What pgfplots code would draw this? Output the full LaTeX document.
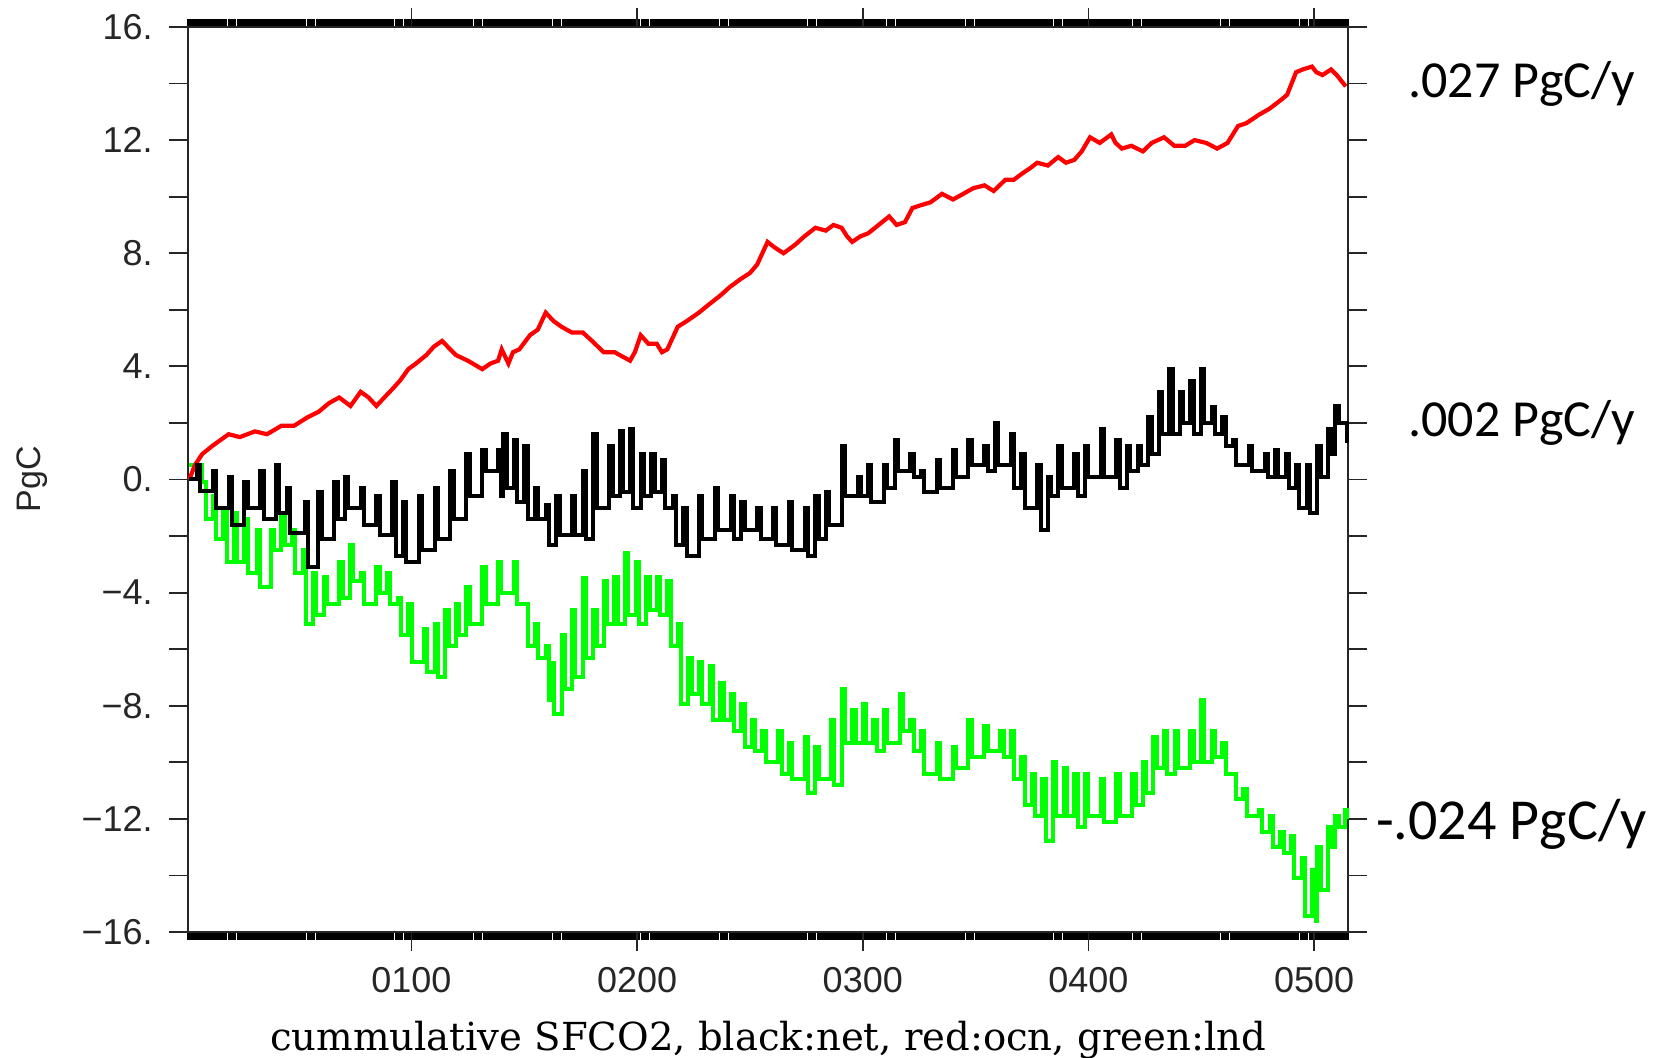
\documentclass[border=0pt]{standalone}
\usepackage{fontspec}
\setmainfont{Liberation Sans}
\newfontfamily\tickfont{Liberation Sans}
\newfontfamily\labfont{DejaVu Serif}
\newfontfamily\annfont{Carlito}
\usepackage{pgfplots}
\pgfplotsset{compat=1.18}
\definecolor{lndgreen}{RGB}{0,255,0}
\definecolor{ocnred}{RGB}{255,0,0}
\begin{document}
\begin{tikzpicture}[x=1pt,y=1pt]
\path[use as bounding box] (-94,-63) rectangle (736.5,466);
\begin{axis}[
  at={(0,0)}, anchor=south west,
  scale only axis, width=580pt, height=452.5pt,
  xmin=1, xmax=515, ymin=-16, ymax=16,
  axis line style={black!85, line width=0.9pt},
  tick align=outside,
  major tick length=9.5pt,
  minor tick length=4pt,
  tick style={black!85, line width=0.9pt},
  xtick={100,200,300,400,500},
  xticklabels={0100,0200,0300,0400,0500},
  minor xtick={1,...,515},
  minor x tick style={line width=1.1pt, black},
  ytick={-16,-14,...,16},
  yticklabels={−16.,,−12.,,−8.,,−4.,,0.,,4.,,8.,,12.,,16.},
  tick label style={font=\tickfont\fontsize{18}{18}\selectfont, black!85, inner sep=0pt},
  yticklabel style={anchor=east, xshift=-8pt},
  xticklabel style={anchor=north, yshift=-8pt},
  xlabel={cummulative SFCO2, black:net, red:ocn, green:lnd},
  xlabel style={font=\labfont\fontsize{19.3}{19.3}\selectfont, at={(axis description cs:0.5,-0.1193)}, anchor=center, inner sep=0pt},
  ylabel={PgC},
  ylabel style={font=\tickfont\fontsize{17}{17}\selectfont, black!85, at={(axis description cs:-0.1345,0.5)}, anchor=center, inner sep=0pt},
  clip=false,
]
% land (green)
\addplot[const plot, color=lndgreen, line width=2pt] coordinates {
(1.6,0.5) (7.3,-0.1) (8.8,-1.4) (11.9,-0.6) (13.4,-2.1) (16.6,-1.0) (18.1,-2.9)
(21.3,-1.2) (22.8,-2.9) (26.0,-1.4) (27.5,-3.3) (31.6,-1.8) (33.1,-3.8)
(37.7,-1.8) (39.2,-2.5) (42.4,-1.2) (43.9,-2.3) (47.1,-1.8) (48.6,-3.3)
(51.8,-2.5) (53.3,-5.1) (56.4,-3.3) (57.9,-4.8) (61.1,-3.45) (62.6,-4.4)
(68.1,-2.9) (69.6,-4.2) (72.8,-2.3) (74.3,-3.6) (77.5,-3.3) (79.0,-4.4)
(84.5,-3.1) (86.0,-4.0) (89.2,-3.3) (90.7,-4.4) (93.9,-4.2) (95.4,-5.5)
(98.6,-4.4) (100.1,-6.45) (105.6,-5.3) (107.1,-6.8) (110.3,-5.1) (111.8,-7.0)
(115.0,-4.6) (116.5,-5.9) (119.7,-4.4) (121.2,-5.5) (124.4,-3.8) (125.9,-5.1)
(131.4,-3.1) (132.9,-4.4) (138.4,-2.9) (139.9,-4.0) (145.4,-2.9) (146.9,-4.4)
(150.1,-4.4) (151.6,-5.9) (154.8,-5.1) (156.3,-6.3) (159.5,-5.9) (161.0,-7.8)
(161.8,-6.5) (163.3,-8.3) (166.5,-5.5) (168.0,-7.4) (171.2,-4.6) (172.7,-7.0)
(175.9,-3.5) (177.4,-6.3) (180.6,-4.6) (182.1,-5.9) (185.2,-3.6) (186.7,-5.1)
(189.9,-3.45) (191.4,-5.1) (194.6,-2.6) (196.1,-4.8) (199.3,-2.9) (200.8,-5.1)
(204.0,-3.45) (205.5,-4.6) (208.7,-3.45) (210.2,-4.8) (213.4,-3.6) (214.9,-5.9)
(218.0,-5.1) (219.5,-7.95) (222.7,-6.3) (224.2,-7.6) (227.4,-6.45) (228.9,-7.95)
(232.1,-6.6) (233.6,-8.5) (236.8,-7.2) (238.3,-8.5) (241.5,-7.6) (243.0,-8.9)
(246.1,-7.95) (247.6,-9.45) (250.8,-8.5) (252.3,-9.6) (255.5,-8.9) (257.0,-10.0)
(262.5,-8.9) (264.0,-10.4) (267.2,-9.3) (268.7,-10.6) (274.2,-9.1) (275.7,-11.1)
(278.9,-9.45) (280.4,-10.6) (285.9,-8.5) (287.4,-10.8) (290.6,-7.4) (292.1,-9.3)
(295.3,-8.15) (296.8,-9.3) (300.0,-7.95) (301.5,-9.3) (304.7,-8.5) (306.2,-9.6)
(309.4,-8.15) (310.9,-9.3) (316.4,-7.6) (317.9,-8.9) (321.1,-8.5) (322.6,-9.6)
(325.8,-8.9) (327.3,-10.4) (332.8,-9.3) (334.3,-10.6) (339.8,-9.45) (341.3,-10.2)
(346.8,-8.5) (348.3,-9.8) (353.9,-8.7) (355.4,-9.6) (360.9,-8.9) (362.4,-9.8)
(365.6,-8.9) (367.1,-10.6) (370.3,-9.8) (371.8,-11.5) (374.9,-10.4) (376.4,-11.9)
(379.6,-10.6) (381.1,-12.8) (384.3,-10.0) (385.8,-11.9) (389.0,-10.2) (390.5,-11.9)
(393.7,-10.4) (395.2,-12.3) (398.4,-10.4) (399.9,-11.9) (405.4,-10.6) (406.9,-12.1)
(412.4,-10.4) (413.9,-11.9) (419.4,-10.4) (420.9,-11.5) (424.1,-10.0) (425.6,-11.1)
(428.8,-9.1) (430.3,-10.2) (433.5,-8.9) (435.0,-10.4) (438.2,-8.9) (439.7,-10.2)
(445.2,-8.9) (446.7,-10.0) (449.9,-7.8) (451.4,-10.0) (454.6,-8.9) (456.1,-9.8)
(459.3,-9.3) (460.8,-10.4) (464.0,-10.4) (465.5,-11.3) (468.6,-10.95) (470.1,-11.9)
(475.6,-11.7) (477.1,-12.45) (480.3,-11.9) (481.8,-13.0) (485.0,-12.45) (486.5,-13.2)
(489.7,-12.6) (491.2,-14.1) (494.4,-13.4) (495.9,-15.45) (499.1,-13.8) (500.6,-15.6)
(501.4,-13.0) (502.9,-14.5) (506.1,-12.3) (507.6,-13.0) (509.4,-11.9) (510.9,-12.3)
(513.5,-11.7) (514.5,-12.0)
};
% ocean (red)
\addplot[color=ocnred, line width=2.1pt] coordinates {
(1.6,0) (4,0.5) (7.3,0.9) (12,1.2) (19,1.6) (24,1.5) (30.7,1.7) (36,1.6)
(42.4,1.9) (48,1.9) (54,2.2) (59,2.4) (63.5,2.7) (68,2.9) (73,2.6) (77.5,3.1)
(81,2.9) (84.5,2.6) (88,2.9) (91.6,3.2) (95,3.5) (98.6,3.9) (102,4.1) (106.6,4.4)
(110,4.7) (113.6,4.9) (116,4.7) (119.7,4.4) (125,4.2) (131.4,3.9) (135,4.1)
(138.4,4.2) (140,4.6) (143,4.1) (145,4.5) (147.8,4.6) (152.5,5.1) (156,5.3)
(159.5,5.9) (163,5.6) (166.5,5.4) (171,5.2) (175.9,5.2) (180,4.9) (185.2,4.5)
(190,4.5) (196.9,4.2) (199,4.5) (201.6,5.1) (205,4.8) (208.7,4.8) (211,4.5)
(213.4,4.6) (218,5.4) (222,5.6) (227.4,5.9) (232,6.2) (236.8,6.5) (241,6.8)
(246.1,7.1) (250,7.3) (253.2,7.6) (257.8,8.4) (261,8.2) (264.9,8.0) (270,8.3)
(274.2,8.6) (279,8.9) (283.6,8.8) (287,9.0) (290.6,8.9) (293,8.6) (295.3,8.4)
(299,8.6) (302.3,8.7) (307,9.0) (311.7,9.3) (315,9.0) (318.7,9.1) (322,9.6)
(325.8,9.7) (330,9.8) (335.1,10.1) (340,9.9) (344.5,10.1) (349,10.3) (353.9,10.4)
(358,10.2) (363.2,10.6) (367,10.6) (370.3,10.8) (374,11.0) (377.3,11.2)
(382,11.1) (386.6,11.4) (390,11.2) (393.7,11.3) (397,11.6) (400.7,12.1)
(405,11.9) (410.1,12.2) (412,11.9) (414.8,11.7) (419,11.8) (424.1,11.6)
(428,11.9) (433.5,12.1) (438,11.8) (442.9,11.8) (447,12.0) (452.2,11.9)
(457,11.7) (461.6,11.9) (466.3,12.5) (470,12.6) (475.6,12.9) (480,13.1)
(485,13.4) (488,13.6) (492,14.4) (495,14.5) (499,14.6) (501,14.4) (503.7,14.3)
(507.5,14.5) (510,14.3) (514,13.9)
};
% net (black)
\addplot[const plot, color=black, line width=2pt] coordinates {
(1.6,0.0) (4.9,0.5) (6.4,-0.4) (11.9,0.3) (13.4,-1.0) (19.0,0.1) (20.5,-1.6)
(26.0,-0.1) (27.5,-1.0) (33.0,0.3) (34.5,-1.4) (40.0,0.5) (41.5,-1.2)
(44.7,-0.3) (46.2,-1.9) (52.7,-0.8) (54.2,-3.1) (58.8,-0.45) (60.3,-2.1)
(65.8,-0.1) (67.3,-1.4) (70.5,0.1) (72.0,-1.0) (77.5,-0.3) (79.0,-1.6)
(84.5,-0.6) (86.0,-1.95) (91.6,-0.1) (93.1,-2.7) (96.3,-0.8) (97.8,-2.9)
(103.3,-0.6) (104.8,-2.5) (110.3,-0.3) (111.8,-2.1) (117.3,0.3) (118.8,-1.4)
(124.4,0.9) (125.9,-0.6) (131.4,1.05) (132.9,0.3) (138.4,1.05) (139.9,-0.6)
(140.7,1.6) (142.2,-0.3) (145.4,1.4) (146.9,-0.8) (150.1,1.2) (151.6,-1.4)
(154.8,-0.3) (156.3,-1.4) (159.5,-0.9) (161.0,-2.3) (164.2,-0.6) (165.7,-1.95)
(171.2,-0.6) (172.7,-1.95) (175.9,0.3) (177.4,-2.1) (180.6,1.6) (182.1,-1.0)
(187.6,1.2) (189.1,-0.6) (192.3,1.7) (193.8,-0.45) (196.9,1.8) (198.4,-1.0)
(201.6,0.9) (203.1,-0.6) (206.3,0.9) (207.8,-0.45) (211.0,0.7) (212.5,-1.0)
(215.7,-0.6) (217.2,-2.3) (220.4,-1.0) (221.9,-2.7) (227.4,-0.6) (228.9,-2.1)
(234.4,-0.3) (235.9,-1.8) (241.5,-0.6) (243.0,-2.1) (246.1,-0.8) (247.6,-1.8)
(253.2,-1.0) (254.7,-2.1) (260.2,-1.0) (261.7,-2.3) (267.2,-0.8) (268.7,-2.5)
(274.2,-1.0) (275.7,-2.7) (278.9,-0.6) (280.4,-2.1) (283.6,-0.45) (285.1,-1.6)
(290.6,1.2) (292.1,-0.6) (297.7,0.1) (299.2,-0.6) (302.3,0.5) (303.8,-0.8)
(309.4,0.5) (310.9,-0.3) (314.1,1.4) (315.6,0.3) (321.1,0.9) (322.6,0.1)
(325.8,0.3) (327.3,-0.45) (332.8,0.7) (334.3,-0.3) (339.8,1.05) (341.3,0.1)
(346.8,1.4) (348.3,0.5) (353.9,1.2) (355.4,0.3) (358.5,2.0) (360.0,0.5)
(365.6,1.6) (367.1,-0.3) (370.3,0.9) (371.8,-1.0) (377.3,0.5) (378.8,-1.8)
(381.9,0.1) (383.4,-0.6) (386.6,1.2) (388.1,-0.3) (393.7,0.9) (395.2,-0.6)
(398.4,1.2) (399.9,0.1) (405.4,1.8) (406.9,0.1) (412.4,1.4) (413.9,-0.3)
(417.1,1.2) (418.6,0.3) (421.8,1.2) (423.3,0.5) (426.5,2.2) (428.0,0.9)
(431.1,3.1) (432.6,1.6) (435.8,3.9) (437.3,1.6) (440.5,3.1) (442.0,2.0)
(445.2,3.5) (446.7,1.6) (449.9,3.9) (451.4,2.0) (454.6,2.55) (456.1,1.6)
(459.3,2.2) (460.8,1.2) (464.0,1.4) (465.5,0.5) (471.0,1.2) (472.5,0.3)
(478.0,0.9) (479.5,0.1) (482.7,1.05) (484.2,0.1) (487.4,0.9) (488.9,-0.3)
(492.0,0.5) (493.5,-1.0) (496.7,0.5) (498.2,-1.2) (501.4,1.2) (502.9,0.1)
(506.1,1.8) (507.6,0.9) (509.4,2.6) (510.9,2.0) (513.5,2.0) (514.5,1.3)
};
\pgfplotsinvokeforeach{100,200,300,400,500}{
  \draw[black!85, line width=0.9pt] (axis cs:#1,-16) -- ++(0pt,-9.5pt);
  \draw[black!85, line width=0.9pt] (axis cs:#1,16) -- ++(0pt,9.5pt);
}
\node[anchor=west, inner sep=0pt, font=\annfont\fontsize{26}{26}\selectfont] at (axis cs:541.5,14) {.027 PgC/y};
\node[anchor=west, inner sep=0pt, font=\annfont\fontsize{26}{26}\selectfont] at (axis cs:541.5,2) {.002 PgC/y};
\node[anchor=west, inner sep=0pt, font=\annfont\fontsize{29}{29}\selectfont] at (axis cs:527.3,-12.2) {-.024 PgC/y};
\end{axis}
\end{tikzpicture}
\end{document}
